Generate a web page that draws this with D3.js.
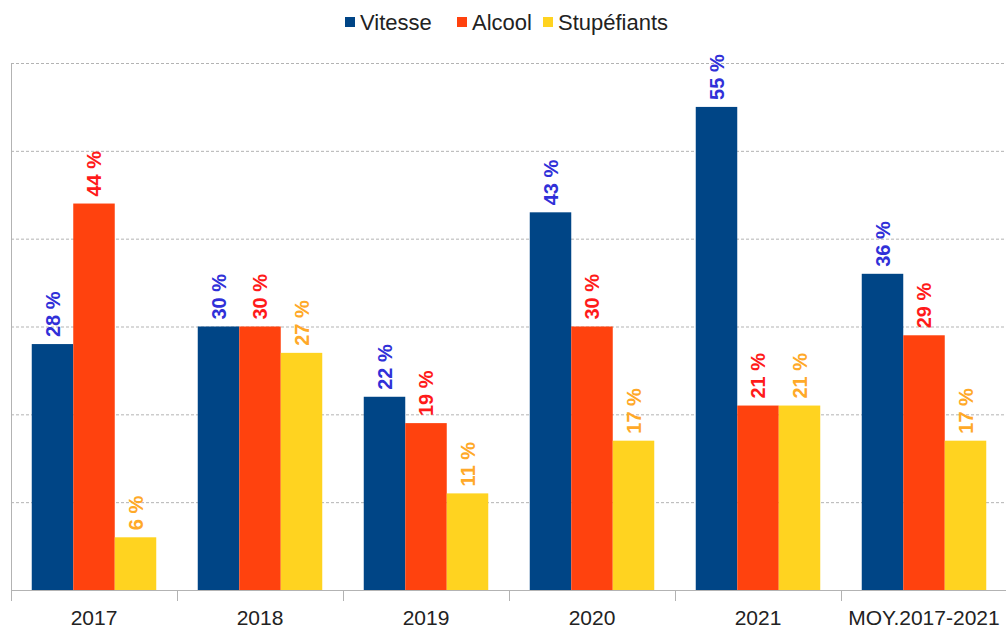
<!DOCTYPE html>
<html>
<head>
<meta charset="utf-8">
<script src="https://cdn.jsdelivr.net/npm/d3@7"></script>
<style>
  body { margin: 0; background: #fff; }
  svg { display: block; font-family: "Liberation Sans", Arial, sans-serif; }
</style>
</head>
<body>
<svg id="chart" width="1006" height="628"></svg>
<script>
const categories = ["2017", "2018", "2019", "2020", "2021", "MOY.2017-2021"];
const series = ["Vitesse", "Alcool", "Stupéfiants"];
const vitesse = [28, 30, 22, 43, 55, 36];
const alcool = [44, 30, 19, 30, 21, 29];
const stupefiants = [6, 27, 11, 17, 21, 17];
const yTicks = [10, 20, 30, 40, 50, 60];

const barColors = ["#004586", "#ff420e", "#ffd320"];
const labelColors = ["#3030d8", "#ff1a1a", "#ffa928"];

const values = [vitesse, alcool, stupefiants];

const svg = d3.select("#chart");
const margin = { left: 11, right: 1007, top: 63, bottom: 590 };

const x0 = d3.scaleBand().domain(categories).range([margin.left, margin.right]);
const bw = x0.bandwidth();
const x1 = d3.scaleBand().domain(series).range([bw * 0.125, bw * 0.875]);
const y = d3.scaleLinear().domain([0, 60]).range([margin.bottom, margin.top]);

// grid
svg.append("g")
    .selectAll("line")
    .data(yTicks)
    .enter().append("line")
    .attr("x1", margin.left)
    .attr("x2", margin.right)
    .attr("y1", d => y(d) + 0.5)
    .attr("y2", d => y(d) + 0.5)
    .attr("stroke", "#b3b3b3")
    .attr("stroke-dasharray", "3,2");

svg.append("line")
    .attr("x1", margin.left + 0.5).attr("x2", margin.left + 0.5)
    .attr("y1", margin.top).attr("y2", margin.bottom)
    .attr("stroke", "#b3b3b3");

// bars
const groups = svg.append("g")
    .selectAll("g")
    .data(categories)
    .enter().append("g")
    .attr("transform", d => `translate(${x0(d)},0)`);

groups.selectAll("rect")
    .data((c, i) => series.map((s, j) => ({ s, j, v: values[j][i] })))
    .enter().append("rect")
    .attr("x", d => x1(d.s))
    .attr("width", x1.bandwidth())
    .attr("y", d => y(d.v))
    .attr("height", d => y(0) - y(d.v))
    .attr("fill", d => barColors[d.j]);

groups.selectAll("text")
    .data((c, i) => series.map((s, j) => ({ s, j, v: values[j][i] })))
    .enter().append("text")
    .attr("transform", d => `translate(${x1(d.s) + x1.bandwidth() / 2},${y(d.v) - 7}) rotate(-90)`)
    .attr("dy", "0.35em")
    .attr("font-size", 20)
    .attr("font-weight", "bold")
    .attr("fill", d => labelColors[d.j])
    .text(d => d.v + " %");

// x axis
const xAxis = svg.append("g");
xAxis.append("line")
    .attr("x1", margin.left).attr("x2", margin.right)
    .attr("y1", margin.bottom + 0.5).attr("y2", margin.bottom + 0.5)
    .attr("stroke", "#b3b3b3");
xAxis.selectAll(".tick")
    .data(categories)
    .enter().append("line")
    .attr("x1", d => x0(d) + 0.5).attr("x2", d => x0(d) + 0.5)
    .attr("y1", margin.bottom).attr("y2", margin.bottom + 11)
    .attr("stroke", "#b3b3b3");
xAxis.selectAll("text")
    .data(categories)
    .enter().append("text")
    .attr("x", d => x0(d) + bw / 2)
    .attr("y", 625)
    .attr("text-anchor", "middle")
    .attr("font-size", 21)
    .attr("fill", "#222")
    .text(d => d);

// legend
const legendX = [345, 457, 543];
const legend = svg.append("g")
    .selectAll("g")
    .data(series)
    .enter().append("g")
    .attr("transform", (d, i) => `translate(${legendX[i]},0)`);
legend.append("rect")
    .attr("x", 0).attr("y", 17)
    .attr("width", 10).attr("height", 10)
    .attr("fill", (d, i) => barColors[i]);
legend.append("text")
    .attr("x", 15).attr("y", 30)
    .attr("font-size", 22)
    .attr("fill", "#222")
    .text(d => d);
</script>
</body>
</html>
